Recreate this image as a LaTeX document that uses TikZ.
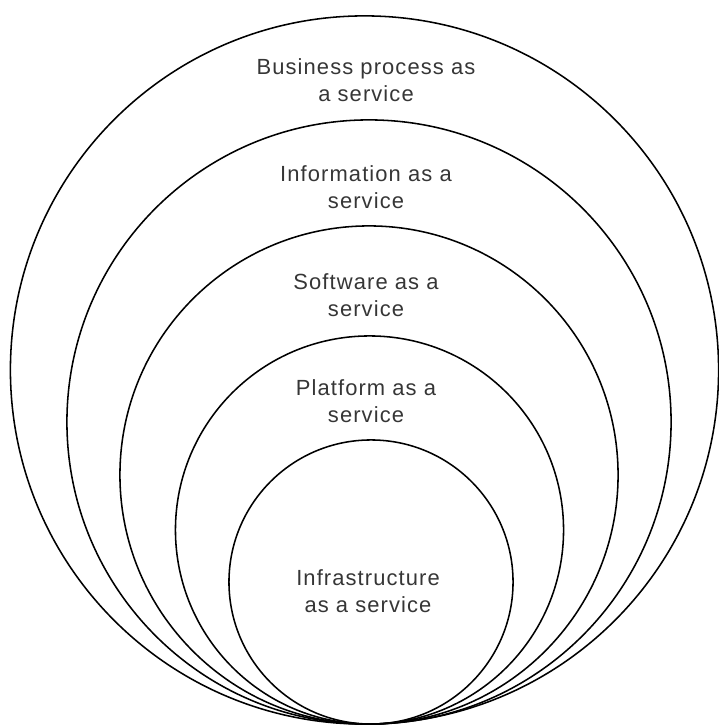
\documentclass[tikz,border=0pt]{standalone}
\usepackage{fontspec}
\newfontfamily\labelfont{Liberation Sans}[LetterSpace=5]
\usepackage{tikz}
\usetikzlibrary{positioning}
\definecolor{labelgrey}{HTML}{363636}

\begin{document}
\begin{tikzpicture}[x=0.025cm,y=0.025cm,
  ring/.style={draw,circle,line width=1.1pt,inner sep=0pt},
  label/.style={align=center,text=labelgrey,font=\labelfont\fontsize{15.6}{19.2}\selectfont}]
\useasboundingbox (0,0) rectangle (718,727);

% nested circles, all touching at the bottom
\node (bpaas) at (364.5,357) [ring,minimum size=17.7cm] {};
\node (inaas) at (369,305) [ring,minimum size=15.1cm] {};
\node (saas) at (369,252) [ring,minimum size=12.45cm] {};
\node (paas) at (369.5,197) [ring,minimum size=9.7cm] {};
\node (iaas) at (371,145) [ring,minimum size=7.1cm] {};

% labels
\node (bpaastext) at (366,647) [label] {Business process as\\a service};
\node (inaastext) at (366,540) [label] {Information as a\\service};
\node (saastext) at (366,432) [label] {Software as a\\service};
\node (paastext) at (366,326) [label] {Platform as a\\service};
\node (iaastext) at (368,136) [label] {Infrastructure\\as a service};
\end{tikzpicture}
\end{document}
